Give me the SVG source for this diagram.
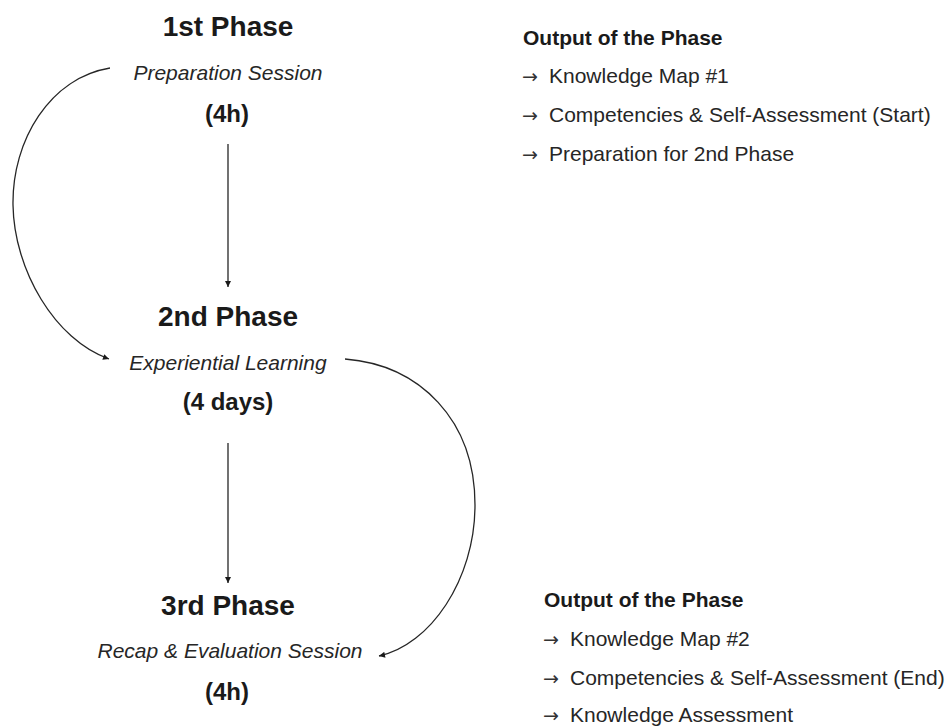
<svg xmlns="http://www.w3.org/2000/svg" width="952" height="728" viewBox="0 0 952 728">
  <style>
    text { font-family: "Liberation Sans", Arial, sans-serif; fill: #1a1a1a; }
    .title { font-size: 28px; font-weight: bold; text-anchor: middle; }
    .sub { font-size: 21px; font-style: italic; text-anchor: middle; fill: #262626; }
    .dur { font-size: 24px; font-weight: bold; text-anchor: middle; }
    .head { font-size: 21px; font-weight: bold; }
    .item { font-size: 21px; fill: #262626; }
    .bullet { font-family: "DejaVu Sans", sans-serif; font-size: 19px; fill: #333333; }
    .conn { fill: none; stroke: #262626; stroke-width: 1.3; }
  </style>
  <defs>
    <marker id="tip" viewBox="0 0 10 10" refX="10" refY="5" markerWidth="8" markerHeight="6" markerUnits="userSpaceOnUse" orient="auto">
      <path d="M0,0 L10,5 L0,10 Z" fill="#1a1a1a"/>
    </marker>
  </defs>

  <rect width="952" height="728" fill="#ffffff"/>

  <!-- connectors -->
  <g id="connectors">
    <path class="conn" d="M228,144 L228,287" marker-end="url(#tip)"/>
    <path class="conn" d="M228,443 L228,583" marker-end="url(#tip)"/>
    <path class="conn" d="M110,68 C50,78 12,140 13,205 C14,270 55,340 109,359" marker-end="url(#tip)"/>
    <path class="conn" d="M345,359 C420,365 475,420 475,505 C475,580 430,645 379,656" marker-end="url(#tip)"/>
  </g>

  <!-- phase 1 -->
  <g id="phase1">
    <text class="title" x="228" y="36">1st Phase</text>
    <text class="sub" x="228" y="80">Preparation Session</text>
    <text class="dur" x="227" y="122">(4h)</text>
  </g>

  <!-- phase 2 -->
  <g id="phase2">
    <text class="title" x="228" y="326">2nd Phase</text>
    <text class="sub" x="228" y="370">Experiential Learning</text>
    <text class="dur" x="228" y="410">(4 days)</text>
  </g>

  <!-- phase 3 -->
  <g id="phase3">
    <text class="title" x="228" y="615">3rd Phase</text>
    <text class="sub" x="230" y="658">Recap &amp; Evaluation Session</text>
    <text class="dur" x="227" y="700">(4h)</text>
  </g>

  <!-- outputs after phase 1 -->
  <g id="output1">
    <text class="head" x="523" y="45">Output of the Phase</text>
    <text class="item" y="83"><tspan class="bullet" x="522">→</tspan><tspan x="549">Knowledge Map #1</tspan></text>
    <text class="item" y="122"><tspan class="bullet" x="522">→</tspan><tspan x="549">Competencies &amp; Self-Assessment (Start)</tspan></text>
    <text class="item" y="161"><tspan class="bullet" x="522">→</tspan><tspan x="549">Preparation for 2nd Phase</tspan></text>
  </g>

  <!-- outputs after phase 3 -->
  <g id="output3">
    <text class="head" x="544" y="607">Output of the Phase</text>
    <text class="item" y="646"><tspan class="bullet" x="543">→</tspan><tspan x="570">Knowledge Map #2</tspan></text>
    <text class="item" y="685"><tspan class="bullet" x="543">→</tspan><tspan x="570">Competencies &amp; Self-Assessment (End)</tspan></text>
    <text class="item" y="722"><tspan class="bullet" x="543">→</tspan><tspan x="570">Knowledge Assessment</tspan></text>
  </g>
</svg>
